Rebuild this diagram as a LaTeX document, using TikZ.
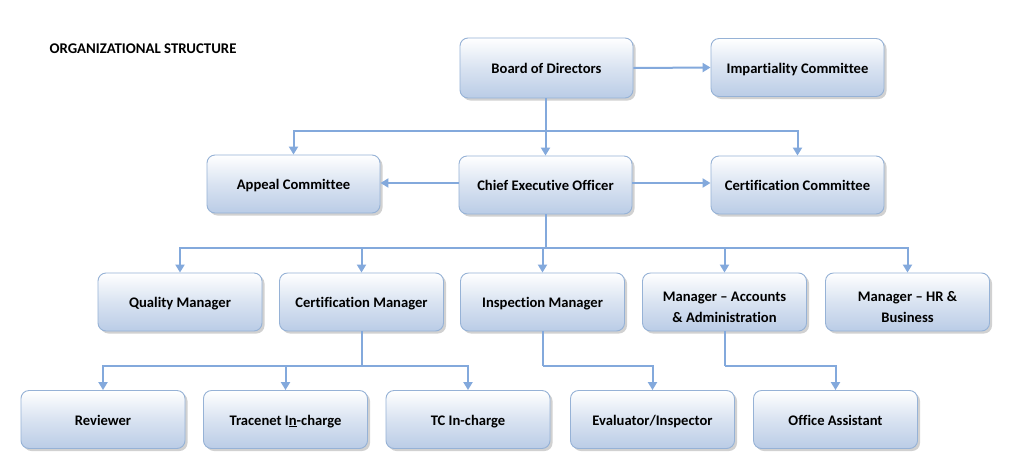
\documentclass[tikz,border=0pt]{standalone}
\usepackage{fontspec}
\setmainfont{Carlito}[Ligatures=NoCommon]
\usetikzlibrary{arrows.meta,shadows}
\definecolor{linecol}{RGB}{131,169,220}
\definecolor{boxborder}{RGB}{150,178,214}
\definecolor{boxbot}{RGB}{186,204,230}
\newcommand{\twoline}[2]{\raisebox{-6pt}[\height][\depth]{\begin{tabular}{@{}c@{}}#1\\[1pt]#2\end{tabular}}}
\tikzset{
  box/.style={draw=boxborder, line width=0.9pt, rounded corners=8pt,
    top color=white, bottom color=boxbot, middle color=white!45!boxbot,
    minimum height=58pt, align=center,
    font=\fontsize{14.6}{20}\selectfont\bfseries, text=black,
    drop shadow={shadow xshift=2.5pt, shadow yshift=-2.5pt, opacity=0.45, fill=gray!80}},
  one/.style={text height=11pt, text depth=0pt},
  wbox/.style={box, one, minimum width=173pt},
  nbox/.style={box, one, minimum width=164pt},
  mbox/.style={box, minimum width=164pt},
  conn/.style={draw=linecol, line width=2pt, -{Triangle[length=8pt,width=9pt]}},
  plain/.style={draw=linecol, line width=2pt},
}
\begin{document}
\begin{tikzpicture}[x=1pt,y=-1pt]
\fill[white] (0,0) rectangle (1025,472);
\useasboundingbox (0,0) rectangle (1025,472);

\node[anchor=west, font=\fontsize{14.8}{17}\selectfont\bfseries] (title) at (46,49) {ORGANIZATIONAL STRUCTURE};

\node[wbox, minimum height=60pt] (bod) at (546.5,68) {Board of Directors};
\node[wbox] (imp) at (797.5,67.5) {Impartiality Committee};
\node[wbox] (app) at (293.5,184) {Appeal Committee};
\node[wbox] (ceo) at (545.5,185) {Chief Executive Officer};
\node[wbox] (cc) at (797.5,185) {Certification Committee};

\node[nbox] (qm) at (180,302) {Quality Manager};
\node[nbox] (cm) at (361.5,302) {Certification Manager};
\node[nbox] (im) at (542.5,302) {Inspection Manager};
\node[mbox] (ma) at (724.5,302) {\twoline{Manager -- Accounts}{\& Administration}};
\node[mbox] (mh) at (907.5,302) {\twoline{Manager -- HR \&}{Business}};

\node[nbox] (rev) at (103,419.5) {Reviewer};
\node[nbox] (tn) at (285.5,419.5) {Tracenet I\underline{n}-charge};
\node[nbox] (tc) at (468,419.5) {TC In-charge};
\node[nbox] (ev) at (652.5,419.5) {Evaluator/Inspector};
\node[nbox] (oa) at (835.5,419.5) {Office Assistant};

% connectors
\draw[conn] (bod.east) -- (imp.west);
\coordinate (j1) at (545.5,131);
\draw[plain] (bod.south -| j1) -- (j1);
\draw[conn] (j1) -| (app.north);
\draw[conn] (j1) -| (cc.north);
\draw[conn] (j1) -- (ceo.north);

\draw[conn] (ceo.west |- 0,183) -- (app.east |- 0,183);
\draw[conn] (ceo.east |- 0,183) -- (cc.west |- 0,183);

\coordinate (j2) at (545.5,248);
\draw[plain] (ceo.south) -- (j2);
\draw[conn] (j2) -| (qm.north);
\draw[conn] (j2) -| (cm.north);
\draw[conn] (j2) -| (im.north);
\draw[conn] (j2) -| (ma.north);
\draw[conn] (j2) -| (mh.north);

\coordinate (j3) at (361.5,366);
\draw[plain] (cm.south) -- (j3);
\draw[conn] (j3) -| (rev.north);
\draw[conn] (j3) -| (tn.north);
\draw[conn] (j3) -| (tc.north);

\coordinate (j4) at (542.5,366);
\draw[plain] (im.south) -- (j4);
\draw[conn] (j4) -| (ev.north);

\coordinate (j5) at (724.5,366);
\draw[plain] (ma.south) -- (j5);
\draw[conn] (j5) -| (oa.north);
\end{tikzpicture}
\end{document}
